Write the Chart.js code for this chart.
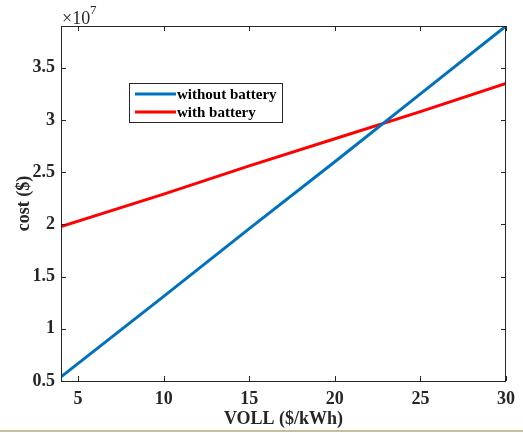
<!DOCTYPE html>
<html>
<head>
<meta charset="utf-8">
<script src="https://cdn.jsdelivr.net/npm/chart.js@4/dist/chart.umd.min.js"></script>
<style>
  html, body { margin: 0; padding: 0; background: #fff; }
  #wrap { position: relative; width: 523px; height: 433px; }
  #rule { position: absolute; left: 0; top: 430px; width: 523px; height: 2px; background: #c7bf9b; }
</style>
</head>
<body>
<div id="wrap">
  <canvas id="c" width="523" height="433"></canvas>
  <div id="rule"></div>
</div>
<script>
const voll = [4, 10, 15, 20, 25, 30];
// cost in units of 1e7 $
const withoutBattery = [0.54, 1.31, 1.96, 2.60, 3.25, 3.90];
const withBattery = [1.98, 2.29, 2.56, 2.82, 3.08, 3.35];

const xTicks = [5, 10, 15, 20, 25, 30];
const yTicks = [0.5, 1, 1.5, 2, 2.5, 3, 3.5];

const SCALE = 1e7;
const FONT = '"Liberation Serif", "Times New Roman", serif';

const toPoints = (ys) => voll.map((x, i) => ({ x: x, y: ys[i] * SCALE }));

// MATLAB style box with inward ticks, the x10^7 label and the legend
const matlabBox = {
  id: 'matlabBox',
  afterDraw(chart) {
    const ctx = chart.ctx;
    const a = chart.chartArea;
    const xs = chart.scales.x;
    const ys = chart.scales.y;
    const len = 5;

    ctx.save();
    ctx.strokeStyle = '#262626';
    ctx.lineWidth = 1;
    ctx.strokeRect(a.left + 0.5, a.top + 0.5, a.right - a.left - 1, a.bottom - a.top);

    ctx.beginPath();
    xTicks.forEach((t) => {
      const px = Math.round(xs.getPixelForValue(t)) + 0.5;
      ctx.moveTo(px, a.bottom); ctx.lineTo(px, a.bottom - len);
      ctx.moveTo(px, a.top); ctx.lineTo(px, a.top + len);
    });
    yTicks.forEach((t) => {
      const py = Math.round(ys.getPixelForValue(t * SCALE)) + 0.5;
      ctx.moveTo(a.left, py); ctx.lineTo(a.left + len, py);
      ctx.moveTo(a.right, py); ctx.lineTo(a.right - len, py);
    });
    ctx.stroke();

    // exponent label
    ctx.fillStyle = '#262626';
    ctx.textBaseline = 'alphabetic';
    ctx.textAlign = 'left';
    ctx.font = '18px ' + FONT;
    ctx.fillText('\u00d710', 62, 24);
    ctx.font = '13px ' + FONT;
    ctx.fillText('7', 90, 14);

    // legend
    const lx = 129.5, ly = 83.5, lw = 153, lh = 39;
    ctx.fillStyle = '#fff';
    ctx.fillRect(lx, ly, lw, lh);
    ctx.strokeStyle = '#262626';
    ctx.strokeRect(lx, ly, lw, lh);
    ctx.font = 'bold 15px ' + FONT;
    ctx.textBaseline = 'middle';
    chart.data.datasets.forEach((ds, i) => {
      const y = 94 + i * 18;
      ctx.strokeStyle = ds.borderColor;
      ctx.lineWidth = 3;
      ctx.beginPath();
      ctx.moveTo(135, y); ctx.lineTo(176, y);
      ctx.stroke();
      ctx.fillStyle = '#000';
      ctx.fillText(ds.label, 177, y + 1);
    });
    ctx.restore();
  }
};

new Chart(document.getElementById('c'), {
  type: 'scatter',
  data: {
    datasets: [
      {
        label: 'without battery',
        data: toPoints(withoutBattery),
        showLine: true,
        borderColor: '#0072bd',
        borderWidth: 3,
        pointRadius: 0,
        tension: 0
      },
      {
        label: 'with battery',
        data: toPoints(withBattery),
        showLine: true,
        borderColor: '#ff0000',
        borderWidth: 3,
        pointRadius: 0,
        tension: 0
      }
    ]
  },
  options: {
    responsive: false,
    animation: false,
    layout: { padding: { top: 26, right: 15, left: 0, bottom: 0 } },
    plugins: {
      legend: { display: false },
      tooltip: { enabled: false }
    },
    scales: {
      x: {
        type: 'linear',
        min: 4,
        max: 30,
        afterBuildTicks: (s) => { s.ticks = xTicks.map((v) => ({ value: v })); },
        afterFit: (s) => { s.height = 52; },
        grid: { display: false, drawTicks: false },
        border: { display: false },
        ticks: {
          padding: 8,
          color: '#262626',
          font: { family: FONT, size: 18, weight: 'bold' },
          maxRotation: 0
        },
        title: {
          display: true,
          text: 'VOLL ($/kWh)',
          color: '#262626',
          font: { family: FONT, size: 18, weight: 'bold' },
          padding: { top: 0, bottom: 3 }
        }
      },
      y: {
        type: 'linear',
        min: 0.5 * SCALE,
        max: 3.9 * SCALE,
        afterBuildTicks: (s) => { s.ticks = yTicks.map((v) => ({ value: v * SCALE })); },
        afterFit: (s) => { s.width = 61; },
        grid: { display: false, drawTicks: false },
        border: { display: false },
        ticks: {
          padding: 6,
          color: '#262626',
          font: { family: FONT, size: 18, weight: 'bold' },
          callback: (v) => String(v / SCALE)
        },
        title: {
          display: true,
          text: 'cost ($)',
          color: '#262626',
          font: { family: FONT, size: 18, weight: 'bold' },
          padding: { top: 14, bottom: 0 }
        }
      }
    }
  },
  plugins: [matlabBox]
});
</script>
</body>
</html>
